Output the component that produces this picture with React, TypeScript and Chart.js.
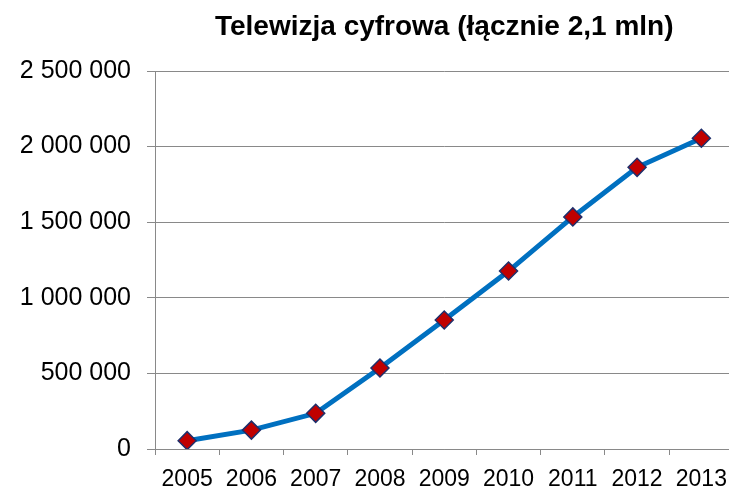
import React, { useEffect, useRef } from "react";
import { Chart, registerables } from "chart.js";

Chart.register(...registerables);

const categories = ["2005", "2006", "2007", "2008", "2009", "2010", "2011", "2012", "2013"];
const values = [55000, 125000, 236000, 536000, 853000, 1177000, 1535000, 1863000, 2055000];
const titleText = "Telewizja cyfrowa (łącznie 2,1 mln)";
const yMin = 0;
const yMax = 2500000;
const yStep = 500000;

const fmt = (v: number) => String(Math.round(v)).replace(/\B(?=(\d{3})+(?!\d))/g, " ");

export default function App() {
  const ref = useRef<HTMLCanvasElement | null>(null);
  useEffect(() => {
    if (!ref.current) return;
    const gridColor = "#898989";
    const chart = new Chart(ref.current, {
      type: "line",
      data: {
        labels: categories,
        datasets: [
          {
            data: values,
            borderColor: "#0070C0",
            borderWidth: 5,
            pointStyle: "rectRot",
            pointRadius: 9,
            pointBackgroundColor: "#C00000",
            pointBorderColor: "#1F2F6B",
            pointBorderWidth: 1.5,
            tension: 0,
          },
        ],
      },
      options: {
        responsive: false,
        animation: false,
        layout: { padding: { left: 0, right: 7, top: 0, bottom: 0 } },
        plugins: {
          legend: { display: false },
          tooltip: { enabled: false },
          title: {
            display: true,
            text: titleText,
            fullSize: false,
            color: "#000",
            font: { family: "'Liberation Sans', Arial", size: 28, weight: "bold", lineHeight: 1.2 },
            padding: { top: 10.8, bottom: 26.6 },
          },
        },
        scales: {
          x: {
            offset: true,
            grid: {
              offset: true,
              drawOnChartArea: false,
              drawTicks: true,
              tickLength: 6,
              color: gridColor,
            },
            border: { display: true, color: gridColor, width: 1 },
            ticks: {
              color: "#000",
              padding: 11,
              maxRotation: 0,
              autoSkip: false,
              font: { family: "'Liberation Sans', Arial", size: 23 },
            },
            afterFit: (s: any) => {
              s.height = 38;
            },
          },
          y: {
            min: yMin,
            max: yMax,
            grid: { color: gridColor, tickLength: 8, drawTicks: true },
            border: { display: true, color: gridColor, width: 1 },
            ticks: {
              stepSize: yStep,
              color: "#000",
              padding: 16,
              font: { family: "'Liberation Sans', Arial", size: 25 },
              callback: (v: any) => fmt(Number(v)),
            },
            afterFit: (s: any) => {
              s.width = 155;
            },
          },
        },
      },
    });
    return () => chart.destroy();
  }, []);
  return (
    <div style={{ position: "fixed", left: 0, top: 0, width: 729, height: 487, overflow: "hidden", background: "#fff" }}>
      <canvas ref={ref} width={744} height={487} style={{ display: "block" }} />
    </div>
  );
}
